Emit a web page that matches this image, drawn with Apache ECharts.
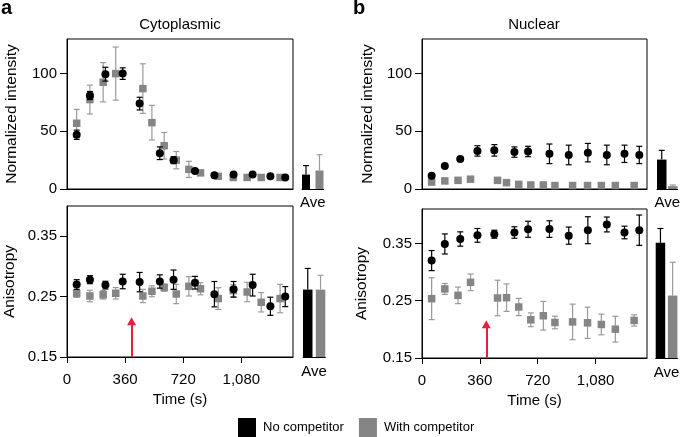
<!DOCTYPE html>
<html>
<head>
<meta charset="utf-8">
<script src="https://cdn.jsdelivr.net/npm/echarts@6/dist/echarts.min.js"></script>
<style>
html,body{margin:0;padding:0;background:#fff;}
#c{width:685px;height:437px;}
</style>
</head>
<body>
<div id="c"></div>
<script>
// ---------------- DATA ----------------
const tNoComp   = [60, 142, 238, 345, 450, 575, 660, 793, 913, 1032, 1150, 1260, 1352];
const tWithComp = [60, 142, 224, 302, 470, 526, 602, 677, 755, 827, 937, 1030, 1116, 1203, 1320];

const cytoIntNo      = [47, 81, 99.5, 100, 74, 31, 25, 15.5, 12, 12.5, 12.5, 11, 10];
const cytoIntNoErr   = [4, 3.5, 6, 5, 5.5, 5.5, 3, 1, 1, 1, 1, 1, 1];
const cytoIntWith    = [57, 77.5, 92.5, 100, 87, 57.5, 37.5, 25, 17, 14, 11, 10, 10, 10, 10];
const cytoIntWithErr = [12, 12.5, 17, 23, 21.5, 15, 11.5, 7.5, 7, 1.5, 1, 1, 1, 1, 1];

const nucIntNo       = [11.5, 20, 26, 33, 33.5, 32, 32.5, 30.5, 29.5, 31.5, 29.5, 30.5, 29.5];
const nucIntNoErr    = [1, 1, 1.5, 4.5, 5, 4.5, 4.5, 8.5, 8.5, 8, 8.5, 7.5, 7.5];
const nucIntWith     = [6, 7, 7.5, 8.5, 7.5, 5.5, 4, 3.5, 3.5, 3, 3, 3, 3, 3, 3];
const nucIntWithErr  = [0.5, 0.5, 0.5, 0.5, 0.5, 0.5, 0.5, 0.5, 0.5, 0.5, 0.5, 0.5, 0.5, 0.5, 0.5];

const cytoAnisNo      = [0.270, 0.278, 0.269, 0.275, 0.274, 0.275, 0.278, 0.273, 0.254, 0.262, 0.269, 0.234, 0.250];
const cytoAnisNoErr   = [0.008, 0.0066, 0.0064, 0.012, 0.016, 0.011, 0.016, 0.0105, 0.021, 0.013, 0.018, 0.015, 0.0166];
const cytoAnisWith    = [0.255, 0.251, 0.253, 0.2555, 0.251, 0.2588, 0.265, 0.2543, 0.267, 0.263, 0.2467, 0.260, 0.2576, 0.2406, 0.2467];
const cytoAnisWithErr = [0.006, 0.0095, 0.007, 0.0095, 0.011, 0.009, 0.006, 0.016, 0.016, 0.01, 0.018, 0.01, 0.016, 0.016, 0.0235];

const nucAnisNo      = [0.320, 0.349, 0.3576, 0.364, 0.366, 0.369, 0.3746, 0.375, 0.3635, 0.373, 0.383, 0.369, 0.373];
const nucAnisNoErr   = [0.0175, 0.0175, 0.0125, 0.012, 0.007, 0.010, 0.014, 0.0145, 0.015, 0.0235, 0.013, 0.011, 0.0265];
const nucAnisWith    = [0.2535, 0.2705, 0.2593, 0.282, 0.2547, 0.2553, 0.239, 0.2167, 0.2237, 0.212, 0.213, 0.2114, 0.2085, 0.2003, 0.2155];
const nucAnisWithErr = [0.0365, 0.0095, 0.0145, 0.0145, 0.031, 0.024, 0.015, 0.012, 0.025, 0.011, 0.031, 0.0273, 0.018, 0.0225, 0.0098];

// averages: [No competitor, With competitor]
const aveCytoInt     = [12.5, 16];
const aveCytoIntErr  = [7.8, 13.7];
const aveCytoAnis    = [0.2616, 0.2616];
const aveCytoAnisErr = [0.035, 0.0237];
const aveNucInt      = [25.5, 2.5];
const aveNucIntErr   = [8, 1];
const aveNucAnis     = [0.351, 0.259];
const aveNucAnisErr  = [0.025, 0.058];

const aveCategory = ['Ave'];
const timeTicks = [0, 360, 720, 1080];
const intensityTicks = [0, 50, 100];
const anisTicks = [0.15, 0.25, 0.35];
const arrowTime = 400;
const arrowFrom = 0.15;
const arrowTo = 0.209;

const seriesNames = ['No competitor', 'With competitor'];
// ---------------- STYLE ----------------
const FF = 'Liberation Sans, Arial, Helvetica, sans-serif';
const BLACK = '#000000';
const GRAY = '#858585';
const GRAY_ERR = '#9a9a9a';
const RED = '#e6213b';

function fmtThousands(v){ return String(v).replace(/\B(?=(\d{3})+(?!\d))/g, ','); }

function mainX(gi, showLabels){
  return {
    gridIndex: gi, type: 'value', min: 0, max: 1400,
    axisLine: {show: true, onZero: false, lineStyle: {color: BLACK, width: 1}},
    splitLine: {show: false},
    axisTick: showLabels ? {show: true, customValues: timeTicks, length: 6, lineStyle: {color: BLACK, width: 1}} : {show: false},
    axisLabel: showLabels ? {show: true, customValues: timeTicks, formatter: fmtThousands, margin: 15, fontSize: 15, color: BLACK, fontFamily: FF} : {show: false},
    name: showLabels ? 'Time (s)' : '', nameLocation: 'middle', nameGap: 35,
    nameTextStyle: {fontSize: 15, color: BLACK, fontFamily: FF}
  };
}
function mainY(gi, min, max, ticks, name, gap){
  return {
    gridIndex: gi, type: 'value', min: min, max: max,
    axisLine: {show: true, onZero: false, lineStyle: {color: BLACK, width: 1}},
    splitLine: {show: false},
    axisTick: {show: true, customValues: ticks, length: 7, lineStyle: {color: BLACK, width: 1}},
    axisLabel: {show: true, customValues: ticks, margin: 10, fontSize: 15, color: BLACK, fontFamily: FF},
    name: name, nameLocation: 'middle', nameGap: gap,
    nameTextStyle: {fontSize: 15.5, color: BLACK, fontFamily: FF}
  };
}
function insetX(gi, margin){
  return {
    gridIndex: gi, type: 'category', data: aveCategory,
    axisLine: {show: true, onZero: false, lineStyle: {color: BLACK, width: 1}},
    axisTick: {show: false}, splitLine: {show: false},
    axisLabel: {show: true, margin: margin, fontSize: 15, color: BLACK, fontFamily: FF}
  };
}
function insetY(gi, min, max){
  return {gridIndex: gi, type: 'value', min: min, max: max, show: false, splitLine: {show: false}};
}

function errSeries(ai, times, vals, errs, color, z){
  return {
    type: 'custom', xAxisIndex: ai, yAxisIndex: ai, z: z, silent: true,
    encode: {x: 0, y: [1, 2]},
    data: times.map((t, i) => [t, vals[i] - errs[i], vals[i] + errs[i]]),
    renderItem: function(params, api){
      const lo = api.coord([api.value(0), api.value(1)]);
      const hi = api.coord([api.value(0), api.value(2)]);
      const w = 3;
      const st = {stroke: color, lineWidth: 1.2};
      return {type: 'group', children: [
        {type: 'line', shape: {x1: lo[0], y1: lo[1], x2: hi[0], y2: hi[1]}, style: st},
        {type: 'line', shape: {x1: lo[0]-w, y1: lo[1], x2: lo[0]+w, y2: lo[1]}, style: st},
        {type: 'line', shape: {x1: hi[0]-w, y1: hi[1], x2: hi[0]+w, y2: hi[1]}, style: st}
      ]};
    }
  };
}
function scatterSeries(ai, name, times, vals, symbol, color, z, withArrow){
  const s = {
    type: 'scatter', name: name, xAxisIndex: ai, yAxisIndex: ai, z: z, silent: true,
    symbol: symbol, symbolSize: symbol === 'circle' ? 8 : 7.5,
    itemStyle: {color: color, opacity: 1},
    data: times.map((t, i) => [t, vals[i]])
  };
  if (withArrow){
    s.markLine = {
      silent: true, symbol: ['none', 'triangle'], symbolSize: [9, 8], precision: 4,
      lineStyle: {color: RED, width: 2, type: 'solid'},
      label: {show: false},
      emphasis: {disabled: true},
      data: [[{coord: [arrowTime, arrowFrom]}, {coord: [arrowTime, arrowTo]}]]
    };
  }
  return s;
}
function insetBars(ai, vals, errs, bw, gap){
  const pct = (gap / bw * 100) + '%';
  const off = (bw + gap) / 2;
  const out = [];
  const cols = [BLACK, GRAY];
  const ecols = [BLACK, GRAY_ERR];
  for (let k = 0; k < 2; k++){
    out.push({
      type: 'bar', name: seriesNames[k], xAxisIndex: ai, yAxisIndex: ai, silent: true,
      barWidth: bw, barGap: pct, itemStyle: {color: cols[k]}, z: 2,
      data: [vals[k]]
    });
  }
  for (let k = 0; k < 2; k++){
    const dx = k === 0 ? -off : off;
    const col = ecols[k];
    out.push({
      type: 'custom', xAxisIndex: ai, yAxisIndex: ai, z: 3, silent: true,
      encode: {x: 0, y: [1, 2]},
      data: [[0, vals[k], vals[k] + errs[k]]],
      renderItem: function(params, api){
        const lo = api.coord([api.value(0), api.value(1)]);
        const hi = api.coord([api.value(0), api.value(2)]);
        const x = lo[0] + dx;
        const w = 3;
        const st = {stroke: col, lineWidth: 1.2};
        return {type: 'group', children: [
          {type: 'line', shape: {x1: x, y1: lo[1], x2: x, y2: hi[1]}, style: st},
          {type: 'line', shape: {x1: x-w, y1: hi[1], x2: x+w, y2: hi[1]}, style: st}
        ]};
      }
    });
  }
  return out;
}

const gridStyle = {show: true, borderColor: BLACK, borderWidth: 1, backgroundColor: 'transparent'};

const option = {
  animation: false,
  textStyle: {fontFamily: FF},
  grid: [
    Object.assign({left: 67, top: 39, width: 226, height: 150}, gridStyle),
    Object.assign({left: 67, top: 206, width: 226, height: 151}, gridStyle),
    Object.assign({left: 422, top: 39, width: 225, height: 150}, gridStyle),
    Object.assign({left: 422, top: 209, width: 225, height: 149}, gridStyle),
    {left: 302, top: 39, width: 21.5, height: 150},
    {left: 303, top: 206, width: 22.3, height: 151},
    {left: 657, top: 39, width: 20.5, height: 150},
    {left: 655.7, top: 209, width: 21.7, height: 149}
  ],
  xAxis: [
    mainX(0, false), mainX(1, true), mainX(2, false), mainX(3, true),
    insetX(4, 6), insetX(5, 7), insetX(6, 6), insetX(7, 7)
  ],
  yAxis: [
    mainY(0, 0, 130, intensityTicks, 'Normalized intensity', 47),
    mainY(1, 0.15, 0.40, anisTicks, 'Anisotropy', 49),
    mainY(2, 0, 130, intensityTicks, 'Normalized intensity', 46),
    mainY(3, 0.15, 0.41, anisTicks, 'Anisotropy', 52),
    insetY(4, 0, 130), insetY(5, 0.15, 0.40), insetY(6, 0, 130), insetY(7, 0.15, 0.41)
  ],
  legend: {
    left: 238, top: 418, padding: 0, icon: 'rect', itemWidth: 18, itemHeight: 19, itemGap: 15,
    selectedMode: false,
    textStyle: {fontSize: 13, color: BLACK, fontFamily: FF, padding: [0, 0, 0, 2]},
    data: [{name: seriesNames[0], itemStyle: {color: BLACK}}, {name: seriesNames[1], itemStyle: {color: GRAY}}]
  },
  graphic: [
    {type: 'text', left: 1, top: -2, style: {text: 'a', font: 'bold 20px ' + FF, fill: BLACK}},
    {type: 'text', left: 353, top: -2, style: {text: 'b', font: 'bold 20px ' + FF, fill: BLACK}},
    {type: 'text', x: 180, y: 17, style: {text: 'Cytoplasmic', font: '15px ' + FF, fill: BLACK, align: 'center', verticalAlign: 'top'}},
    {type: 'text', x: 534, y: 17, style: {text: 'Nuclear', font: '15px ' + FF, fill: BLACK, align: 'center', verticalAlign: 'top'}}
  ],
  series: [
    // Cytoplasmic intensity
    errSeries(0, tWithComp, cytoIntWith, cytoIntWithErr, GRAY_ERR, 2),
    scatterSeries(0, seriesNames[1], tWithComp, cytoIntWith, 'rect', GRAY, 3),
    errSeries(0, tNoComp, cytoIntNo, cytoIntNoErr, BLACK, 4),
    scatterSeries(0, seriesNames[0], tNoComp, cytoIntNo, 'circle', BLACK, 5),
    // Cytoplasmic anisotropy
    errSeries(1, tWithComp, cytoAnisWith, cytoAnisWithErr, GRAY_ERR, 2),
    scatterSeries(1, seriesNames[1], tWithComp, cytoAnisWith, 'rect', GRAY, 3),
    errSeries(1, tNoComp, cytoAnisNo, cytoAnisNoErr, BLACK, 4),
    scatterSeries(1, seriesNames[0], tNoComp, cytoAnisNo, 'circle', BLACK, 5, true),
    // Nuclear intensity
    errSeries(2, tWithComp, nucIntWith, nucIntWithErr, GRAY_ERR, 2),
    scatterSeries(2, seriesNames[1], tWithComp, nucIntWith, 'rect', GRAY, 3),
    errSeries(2, tNoComp, nucIntNo, nucIntNoErr, BLACK, 4),
    scatterSeries(2, seriesNames[0], tNoComp, nucIntNo, 'circle', BLACK, 5),
    // Nuclear anisotropy
    errSeries(3, tWithComp, nucAnisWith, nucAnisWithErr, GRAY_ERR, 2),
    scatterSeries(3, seriesNames[1], tWithComp, nucAnisWith, 'rect', GRAY, 3),
    errSeries(3, tNoComp, nucAnisNo, nucAnisNoErr, BLACK, 4),
    scatterSeries(3, seriesNames[0], tNoComp, nucAnisNo, 'circle', BLACK, 5, true),
    // Insets
    ...insetBars(4, aveCytoInt, aveCytoIntErr, 8, 5.5),
    ...insetBars(5, aveCytoAnis, aveCytoAnisErr, 9.5, 3.3),
    ...insetBars(6, aveNucInt, aveNucIntErr, 9.5, 1.5),
    ...insetBars(7, aveNucAnis, aveNucAnisErr, 9.5, 2.7)
  ]
};

const chart = echarts.init(document.getElementById('c'), null, {renderer: 'canvas'});
chart.setOption(option);
</script>
</body>
</html>
